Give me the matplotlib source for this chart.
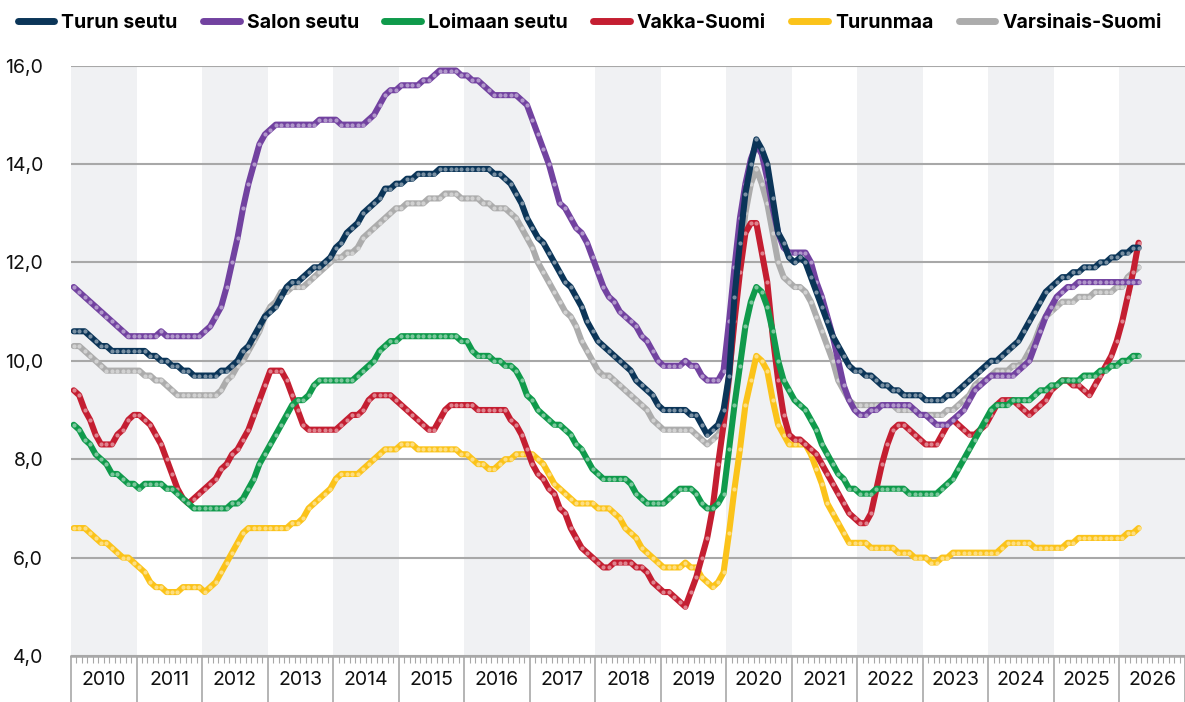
import numpy as np
import matplotlib
matplotlib.use("Agg")
import matplotlib.pyplot as plt
from matplotlib.colors import to_rgb
from matplotlib.ticker import FuncFormatter, FixedLocator

plt.rcParams["font.family"] = ["Inter", "DejaVu Sans"]

# monthly values Jan 2010 .. Apr 2026
turun = [10.6, 10.6, 10.6, 10.5, 10.4, 10.3, 10.3, 10.2, 10.2, 10.2, 10.2, 10.2,
         10.2, 10.2, 10.1, 10.1, 10.0, 10.0, 9.9, 9.9, 9.8, 9.8, 9.7, 9.7,
         9.7, 9.7, 9.7, 9.8, 9.8, 9.9, 10.0, 10.2, 10.3, 10.5, 10.7, 10.9,
         11.0, 11.1, 11.3, 11.5, 11.6, 11.6, 11.7, 11.8, 11.9, 11.9, 12.0, 12.1,
         12.3, 12.4, 12.6, 12.7, 12.8, 13.0, 13.1, 13.2, 13.3, 13.5, 13.5, 13.6,
         13.6, 13.7, 13.7, 13.8, 13.8, 13.8, 13.8, 13.9, 13.9, 13.9, 13.9, 13.9,
         13.9, 13.9, 13.9, 13.9, 13.9, 13.8, 13.8, 13.7, 13.6, 13.4, 13.2, 12.9,
         12.7, 12.5, 12.4, 12.2, 12.0, 11.8, 11.6, 11.5, 11.3, 11.1, 10.8, 10.6,
         10.4, 10.3, 10.2, 10.1, 10.0, 9.9, 9.8, 9.6, 9.5, 9.4, 9.3, 9.1,
         9.0, 9.0, 9.0, 9.0, 9.0, 8.9, 8.9, 8.7, 8.5, 8.6, 8.7, 9.0,
         9.7, 11.3, 12.4, 13.4, 14.0, 14.5, 14.3, 14.0, 13.3, 12.6, 12.4, 12.1,
         12.0, 12.1, 12.0, 11.7, 11.4, 11.1, 10.8, 10.5, 10.3, 10.1, 9.9, 9.8,
         9.8, 9.7, 9.7, 9.6, 9.5, 9.5, 9.4, 9.4, 9.3, 9.3, 9.3, 9.3,
         9.2, 9.2, 9.2, 9.2, 9.3, 9.3, 9.4, 9.5, 9.6, 9.7, 9.8, 9.9,
         10.0, 10.0, 10.1, 10.2, 10.3, 10.4, 10.6, 10.8, 11.0, 11.2, 11.4, 11.5,
         11.6, 11.7, 11.7, 11.8, 11.8, 11.9, 11.9, 11.9, 12.0, 12.0, 12.1, 12.1,
         12.2, 12.2, 12.3, 12.3]
salo = [11.5, 11.4, 11.3, 11.2, 11.1, 11.0, 10.9, 10.8, 10.7, 10.6, 10.5, 10.5,
        10.5, 10.5, 10.5, 10.5, 10.6, 10.5, 10.5, 10.5, 10.5, 10.5, 10.5, 10.5,
        10.6, 10.7, 10.9, 11.1, 11.5, 12.0, 12.5, 13.1, 13.6, 14.0, 14.4, 14.6,
        14.7, 14.8, 14.8, 14.8, 14.8, 14.8, 14.8, 14.8, 14.8, 14.9, 14.9, 14.9,
        14.9, 14.8, 14.8, 14.8, 14.8, 14.8, 14.9, 15.0, 15.2, 15.4, 15.5, 15.5,
        15.6, 15.6, 15.6, 15.6, 15.7, 15.7, 15.8, 15.9, 15.9, 15.9, 15.9, 15.8,
        15.8, 15.7, 15.7, 15.6, 15.5, 15.4, 15.4, 15.4, 15.4, 15.4, 15.3, 15.2,
        14.9, 14.6, 14.3, 14.0, 13.6, 13.2, 13.1, 12.9, 12.7, 12.6, 12.4, 12.1,
        11.8, 11.5, 11.3, 11.2, 11.0, 10.9, 10.8, 10.7, 10.5, 10.4, 10.2, 10.0,
        9.9, 9.9, 9.9, 9.9, 10.0, 9.9, 9.9, 9.7, 9.6, 9.6, 9.6, 9.8,
        10.8, 11.9, 12.9, 13.6, 14.1, 14.4, 14.2, 13.7, 13.1, 12.6, 12.3, 12.2,
        12.2, 12.2, 12.2, 12.0, 11.6, 11.3, 10.9, 10.5, 10.0, 9.5, 9.2, 9.0,
        8.9, 8.9, 9.0, 9.0, 9.1, 9.1, 9.1, 9.1, 9.1, 9.1, 9.0, 8.9,
        8.9, 8.8, 8.7, 8.7, 8.7, 8.8, 8.9, 9.0, 9.2, 9.4, 9.5, 9.6,
        9.7, 9.7, 9.7, 9.7, 9.7, 9.8, 9.9, 10.0, 10.3, 10.6, 10.9, 11.1,
        11.3, 11.4, 11.5, 11.5, 11.6, 11.6, 11.6, 11.6, 11.6, 11.6, 11.6, 11.6,
        11.6, 11.6, 11.6, 11.6]
loimaa = [8.7, 8.6, 8.4, 8.3, 8.1, 8.0, 7.9, 7.7, 7.7, 7.6, 7.5, 7.5,
          7.4, 7.5, 7.5, 7.5, 7.5, 7.4, 7.4, 7.3, 7.2, 7.1, 7.0, 7.0,
          7.0, 7.0, 7.0, 7.0, 7.0, 7.1, 7.1, 7.2, 7.4, 7.6, 7.9, 8.1,
          8.3, 8.5, 8.7, 8.9, 9.1, 9.2, 9.2, 9.3, 9.5, 9.6, 9.6, 9.6,
          9.6, 9.6, 9.6, 9.6, 9.7, 9.8, 9.9, 10.0, 10.2, 10.3, 10.4, 10.4,
          10.5, 10.5, 10.5, 10.5, 10.5, 10.5, 10.5, 10.5, 10.5, 10.5, 10.5, 10.4,
          10.4, 10.2, 10.1, 10.1, 10.1, 10.0, 10.0, 9.9, 9.9, 9.8, 9.6, 9.3,
          9.2, 9.0, 8.9, 8.8, 8.7, 8.7, 8.6, 8.5, 8.3, 8.2, 8.0, 7.8,
          7.7, 7.6, 7.6, 7.6, 7.6, 7.6, 7.5, 7.3, 7.2, 7.1, 7.1, 7.1,
          7.1, 7.2, 7.3, 7.4, 7.4, 7.4, 7.3, 7.1, 7.0, 7.0, 7.1, 7.3,
          8.2, 9.1, 9.9, 10.7, 11.2, 11.5, 11.4, 11.1, 10.6, 10.0, 9.6, 9.4,
          9.2, 9.1, 9.0, 8.8, 8.6, 8.3, 8.1, 7.9, 7.7, 7.6, 7.4, 7.4,
          7.3, 7.3, 7.3, 7.4, 7.4, 7.4, 7.4, 7.4, 7.4, 7.3, 7.3, 7.3,
          7.3, 7.3, 7.3, 7.4, 7.5, 7.6, 7.8, 8.0, 8.2, 8.4, 8.6, 8.8,
          9.0, 9.1, 9.1, 9.1, 9.2, 9.2, 9.2, 9.2, 9.3, 9.4, 9.4, 9.5,
          9.5, 9.6, 9.6, 9.6, 9.6, 9.7, 9.7, 9.7, 9.8, 9.8, 9.9, 9.9,
          10.0, 10.0, 10.1, 10.1]
vakka = [9.4, 9.3, 9.0, 8.8, 8.5, 8.3, 8.3, 8.3, 8.5, 8.6, 8.8, 8.9,
         8.9, 8.8, 8.7, 8.5, 8.3, 8.0, 7.7, 7.4, 7.2, 7.1, 7.2, 7.3,
         7.4, 7.5, 7.6, 7.8, 7.9, 8.1, 8.2, 8.4, 8.6, 8.9, 9.2, 9.5,
         9.8, 9.8, 9.8, 9.6, 9.3, 9.0, 8.7, 8.6, 8.6, 8.6, 8.6, 8.6,
         8.6, 8.7, 8.8, 8.9, 8.9, 9.0, 9.2, 9.3, 9.3, 9.3, 9.3, 9.2,
         9.1, 9.0, 8.9, 8.8, 8.7, 8.6, 8.6, 8.8, 9.0, 9.1, 9.1, 9.1,
         9.1, 9.1, 9.0, 9.0, 9.0, 9.0, 9.0, 9.0, 8.8, 8.7, 8.5, 8.2,
         7.9, 7.7, 7.6, 7.4, 7.3, 7.0, 6.9, 6.6, 6.4, 6.2, 6.1, 6.0,
         5.9, 5.8, 5.8, 5.9, 5.9, 5.9, 5.9, 5.8, 5.8, 5.7, 5.5, 5.4,
         5.3, 5.3, 5.2, 5.1, 5.0, 5.3, 5.6, 6.0, 6.4, 7.0, 7.9, 8.7,
         9.7, 10.8, 11.8, 12.6, 12.8, 12.8, 12.2, 11.6, 10.5, 9.6, 8.9, 8.5,
         8.4, 8.4, 8.3, 8.2, 8.1, 7.9, 7.7, 7.5, 7.3, 7.1, 6.9, 6.8,
         6.7, 6.7, 6.9, 7.4, 7.9, 8.3, 8.6, 8.7, 8.7, 8.6, 8.5, 8.4,
         8.3, 8.3, 8.3, 8.5, 8.7, 8.8, 8.7, 8.6, 8.5, 8.5, 8.6, 8.7,
         8.9, 9.1, 9.2, 9.2, 9.2, 9.1, 9.0, 8.9, 9.0, 9.1, 9.2, 9.4,
         9.5, 9.6, 9.6, 9.5, 9.5, 9.4, 9.3, 9.5, 9.7, 9.9, 10.1, 10.4,
         10.8, 11.3, 11.8, 12.4]
turunmaa = [6.6, 6.6, 6.6, 6.5, 6.4, 6.3, 6.3, 6.2, 6.1, 6.0, 6.0, 5.9,
            5.8, 5.7, 5.5, 5.4, 5.4, 5.3, 5.3, 5.3, 5.4, 5.4, 5.4, 5.4,
            5.3, 5.4, 5.5, 5.7, 5.9, 6.1, 6.3, 6.5, 6.6, 6.6, 6.6, 6.6,
            6.6, 6.6, 6.6, 6.6, 6.7, 6.7, 6.8, 7.0, 7.1, 7.2, 7.3, 7.4,
            7.6, 7.7, 7.7, 7.7, 7.7, 7.8, 7.9, 8.0, 8.1, 8.2, 8.2, 8.2,
            8.3, 8.3, 8.3, 8.2, 8.2, 8.2, 8.2, 8.2, 8.2, 8.2, 8.2, 8.1,
            8.1, 8.0, 7.9, 7.9, 7.8, 7.8, 7.9, 8.0, 8.0, 8.1, 8.1, 8.1,
            8.1, 8.0, 7.9, 7.7, 7.5, 7.4, 7.3, 7.2, 7.1, 7.1, 7.1, 7.1,
            7.0, 7.0, 7.0, 6.9, 6.8, 6.6, 6.5, 6.4, 6.2, 6.1, 6.0, 5.9,
            5.8, 5.8, 5.8, 5.8, 5.9, 5.8, 5.8, 5.6, 5.5, 5.4, 5.5, 5.7,
            6.5, 7.4, 8.2, 9.1, 9.6, 10.1, 10.0, 9.8, 9.2, 8.7, 8.5, 8.3,
            8.3, 8.3, 8.3, 8.1, 7.8, 7.5, 7.1, 6.9, 6.7, 6.5, 6.3, 6.3,
            6.3, 6.3, 6.2, 6.2, 6.2, 6.2, 6.2, 6.1, 6.1, 6.1, 6.0, 6.0,
            6.0, 5.9, 5.9, 6.0, 6.0, 6.1, 6.1, 6.1, 6.1, 6.1, 6.1, 6.1,
            6.1, 6.1, 6.2, 6.3, 6.3, 6.3, 6.3, 6.3, 6.2, 6.2, 6.2, 6.2,
            6.2, 6.2, 6.3, 6.3, 6.4, 6.4, 6.4, 6.4, 6.4, 6.4, 6.4, 6.4,
            6.4, 6.5, 6.5, 6.6]
varsinais = [10.3, 10.3, 10.2, 10.1, 10.0, 9.9, 9.8, 9.8, 9.8, 9.8, 9.8, 9.8,
             9.8, 9.7, 9.7, 9.6, 9.6, 9.5, 9.4, 9.3, 9.3, 9.3, 9.3, 9.3,
             9.3, 9.3, 9.3, 9.4, 9.6, 9.7, 9.9, 10.0, 10.2, 10.4, 10.6, 10.9,
             11.1, 11.2, 11.4, 11.4, 11.5, 11.5, 11.5, 11.6, 11.7, 11.8, 11.9, 12.0,
             12.1, 12.1, 12.2, 12.2, 12.3, 12.5, 12.6, 12.7, 12.8, 12.9, 13.0, 13.1,
             13.1, 13.2, 13.2, 13.2, 13.2, 13.3, 13.3, 13.3, 13.4, 13.4, 13.4, 13.3,
             13.3, 13.3, 13.3, 13.2, 13.2, 13.1, 13.1, 13.1, 13.0, 12.9, 12.7, 12.5,
             12.3, 12.0, 11.8, 11.6, 11.4, 11.2, 11.0, 10.9, 10.7, 10.4, 10.2, 10.0,
             9.8, 9.7, 9.7, 9.6, 9.5, 9.4, 9.3, 9.2, 9.1, 9.0, 8.8, 8.7,
             8.6, 8.6, 8.6, 8.6, 8.6, 8.6, 8.5, 8.4, 8.3, 8.4, 8.5, 8.7,
             9.6, 11.0, 12.0, 13.0, 13.6, 13.9, 13.6, 13.2, 12.6, 12.0, 11.7, 11.6,
             11.5, 11.5, 11.4, 11.2, 10.9, 10.6, 10.3, 10.0, 9.6, 9.4, 9.2, 9.1,
             9.1, 9.1, 9.1, 9.1, 9.1, 9.1, 9.1, 9.0, 9.0, 9.0, 9.0, 8.9,
             8.9, 8.9, 8.9, 8.9, 9.0, 9.0, 9.1, 9.2, 9.3, 9.5, 9.6, 9.6,
             9.7, 9.8, 9.8, 9.8, 9.9, 9.9, 10.0, 10.2, 10.4, 10.7, 10.9, 11.0,
             11.1, 11.2, 11.2, 11.2, 11.3, 11.3, 11.3, 11.4, 11.4, 11.4, 11.4, 11.5,
             11.5, 11.7, 11.8, 11.9]

names = ["Turun seutu", "Salon seutu", "Loimaan seutu", "Vakka-Suomi", "Turunmaa", "Varsinais-Suomi"]
series = [turun, salo, loimaa, vakka, turunmaa, varsinais]
colors = ["#0b3558", "#7242a0", "#0f9a4b", "#c41e31", "#fbc31a", "#acacac"]

def lighten(c, f=0.45):
    r, g, b = to_rgb(c)
    return (r + (1 - r) * f, g + (1 - g) * f, b + (1 - b) * f)

n = len(turun)
x = 2010 + (np.arange(n) + 0.5) / 12

fig = plt.figure(figsize=(11.85, 7.02), dpi=100)
ax = fig.add_axes([71 / 1185, 46 / 702, 1114 / 1185, 590.4 / 702])

for yr in range(2010, 2027, 2):
    ax.axvspan(yr, yr + 1, color="#f0f1f3", lw=0, zorder=0)

for k, (nm, s, c) in enumerate(zip(names, series, colors)):
    z = 10 - k
    ax.plot(x, s, color=c, lw=4.4, solid_capstyle="round", solid_joinstyle="round", label=nm, zorder=z)
    ax.plot(x, s, "o", ms=3.0, color=lighten(c), mew=0, zorder=z + 0.5)

ax.set_xlim(2010, 2027)
ax.set_ylim(4, 16)
ax.set_yticks(np.arange(4, 17, 2))
ax.yaxis.set_major_formatter(FuncFormatter(lambda v, p: f"{v:.1f}".replace(".", ",")))
ax.tick_params(axis="y", length=0, pad=20, labelsize=14, labelcolor="#111111")
ax.grid(axis="y", color="#a8a8a8", lw=1.5, zorder=1)
ax.set_axisbelow(True)

ax.xaxis.set_major_locator(FixedLocator(np.arange(2010, 2028)))
ax.xaxis.set_minor_locator(FixedLocator(2010 + np.arange(0, 17 * 12 + 1) / 12))
ax.set_xticklabels([])
ax.tick_params(axis="x", which="major", length=33, width=1.2, color="#a8a8a8")
ax.tick_params(axis="x", which="minor", length=5, width=0.8, color="#a8a8a8")
for yr in range(2010, 2027):
    ax.annotate(str(yr), xy=(yr + 0.5, 0), xycoords=("data", "axes fraction"),
                xytext=(0, -24), textcoords="offset pixels", ha="center", va="center",
                fontsize=14, color="#111111")

for sp in ["top", "right", "left"]:
    ax.spines[sp].set_visible(False)
ax.spines["bottom"].set_color("#a8a8a8")
ax.spines["bottom"].set_linewidth(1.8)

leg = fig.legend(loc="upper left", bbox_to_anchor=(0.0, 1.005), ncol=6, frameon=False,
                 handlelength=1.9, handletextpad=0.35, columnspacing=1.3,
                 prop={"weight": "bold", "size": 14})
for h in leg.legend_handles:
    h.set_linewidth(5)

fig.savefig("out.png", dpi=100)
